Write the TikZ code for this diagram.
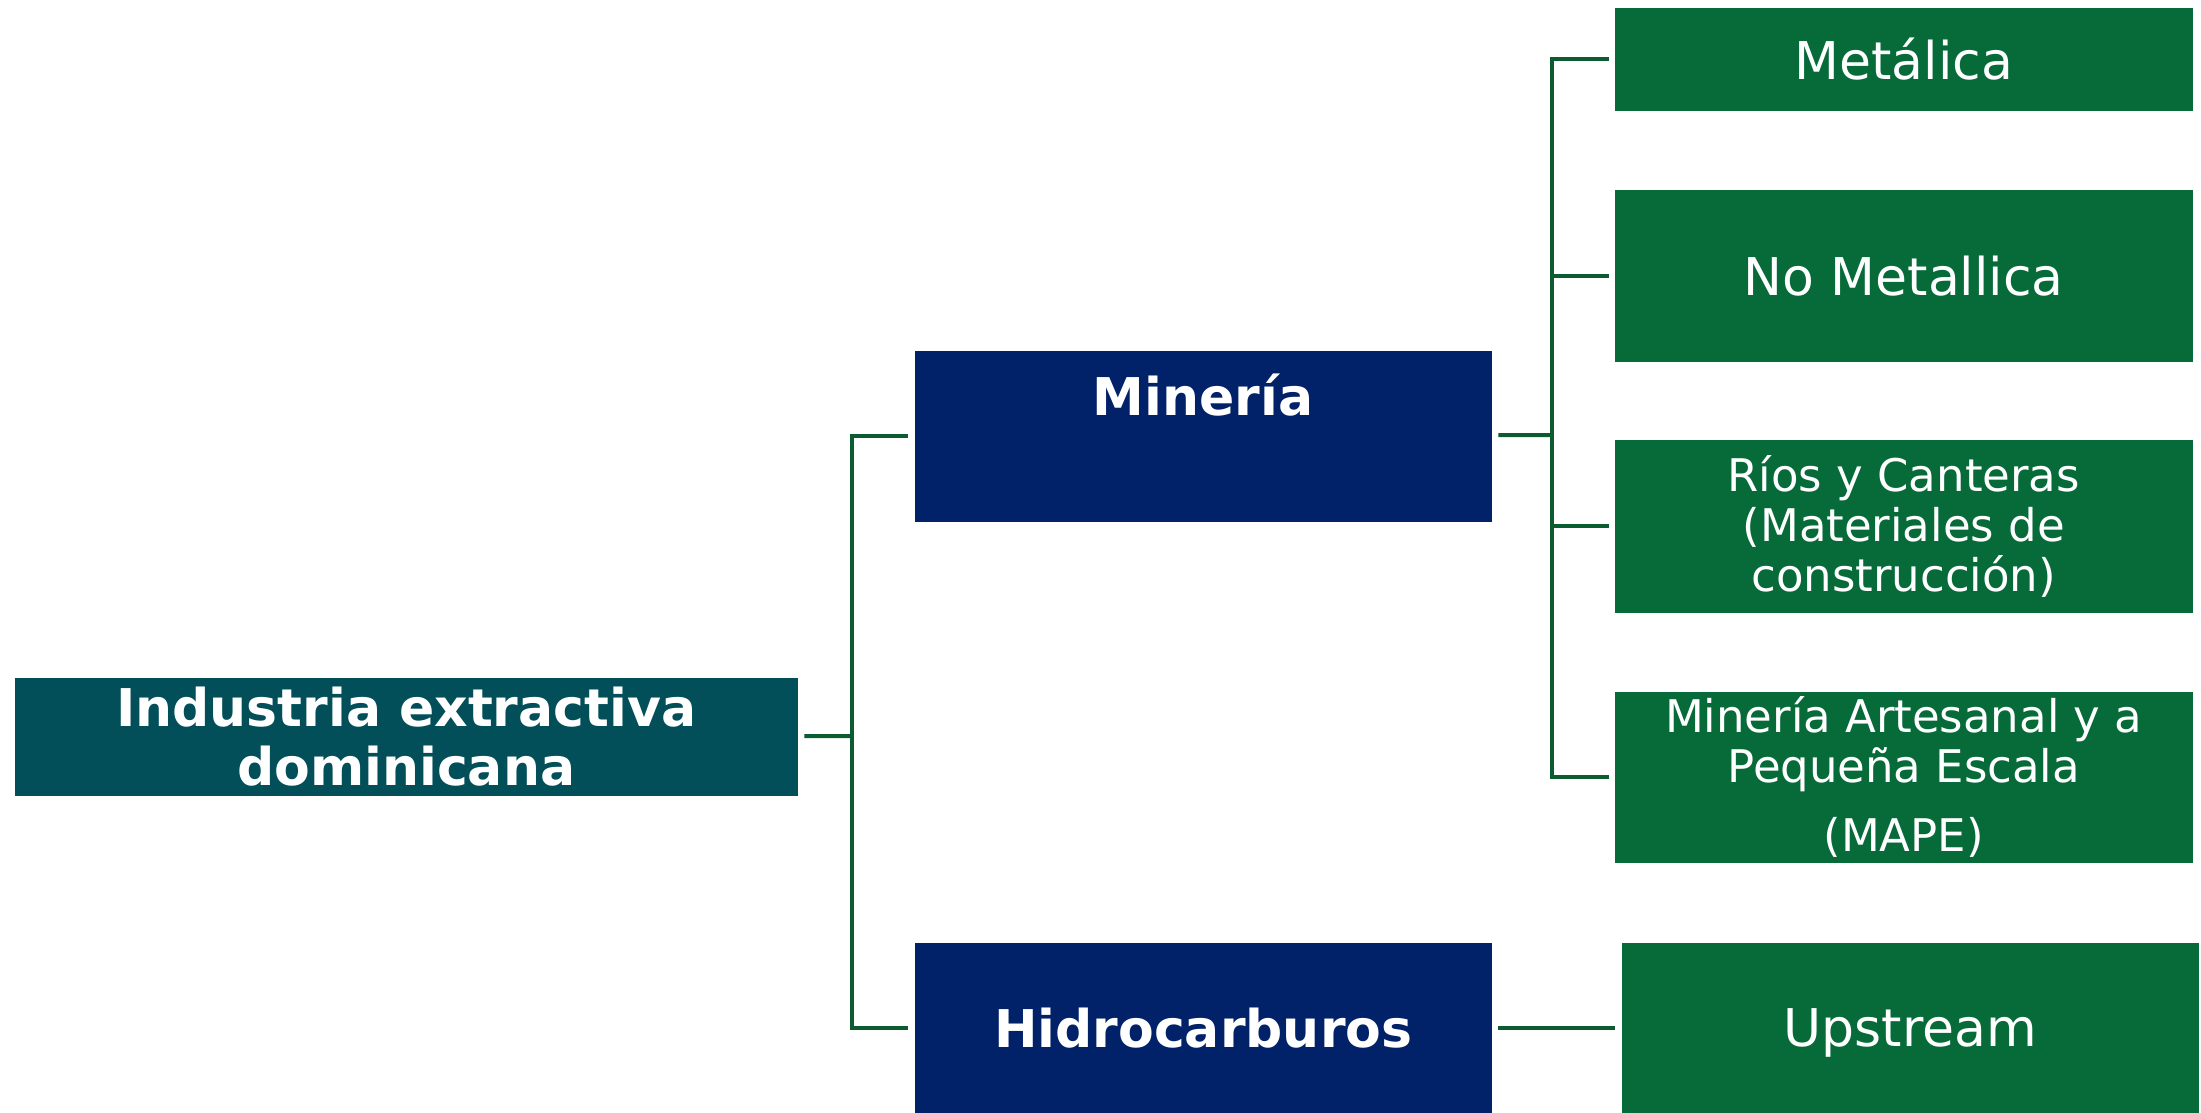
\documentclass[tikz,border=0pt]{standalone}
\usepackage{fontspec}
\setmainfont{DejaVu Sans}
\definecolor{rootcol}{HTML}{024F59}
\definecolor{minecol}{HTML}{012169}
\definecolor{subcol}{HTML}{066B39}
\definecolor{linecol}{HTML}{0B5C30}
\begin{document}
\begin{tikzpicture}[x=0.1mm,y=-0.1mm]

        \useasboundingbox (0,0) rectangle (2201,1112);

        \begin{scope}[every node/.style={rectangle, anchor=north west, inner sep=0pt, text=white, align=center, font=\fontsize{14.8}{16.8}\selectfont}]
          \node[fill=rootcol, minimum width=78.3mm, minimum height=11.8mm, font=\fontsize{14.8}{16.8}\selectfont\bfseries] (root) at (14,677) {Industria extractiva\\dominicana};
          \node[fill=minecol, minimum width=57.7mm, text height=6.5mm, text depth=10.6mm, text width=57.7mm, font=\fontsize{14.8}{16.8}\selectfont\bfseries] (min) at (914,350) {Minería};
          \node[fill=minecol, minimum width=57.7mm, minimum height=17mm, font=\fontsize{14.8}{16.8}\selectfont\bfseries] (hid) at (914,942) {Hidrocarburos};
          \node[fill=subcol, minimum width=57.8mm, minimum height=10.3mm] (met) at (1614,7) {Metálica};
          \node[fill=subcol, minimum width=57.8mm, minimum height=17.2mm] (nomet) at (1614,189) {No Metallica};
          \node[fill=subcol, minimum width=57.8mm, minimum height=17.3mm, font=\fontsize{12.8}{14.2}\selectfont] (rios) at (1614,439) {Ríos y Canteras\\(Materiales de\\construcción)};
          \node[fill=subcol, minimum width=57.8mm, minimum height=17.1mm, font=\fontsize{12.8}{14.2}\selectfont] (mape) at (1614,691) {Minería Artesanal y a\\Pequeña Escala\\[1.9mm](MAPE)};
          \node[fill=subcol, minimum width=57.7mm, minimum height=17mm, text depth=0pt] (up) at (1621,942) {Upstream};
        \end{scope}

        \coordinate (j1) at (852,736);
        \coordinate (j2) at (1552,435);

        \begin{scope}[every path/.style={draw=linecol, line width=0.4mm}, every edge/.style={draw=linecol, line width=0.4mm}]
          % level one
          \path (root) edge[shorten <=0.6mm] (j1);
          \draw[shorten <=0.6mm, shorten >=0.6mm] (min.west) -| (j1) |- (hid.west);
          % level two
          \path (min) edge[shorten <=0.6mm] (j2);
          \draw[shorten <=0.5mm, shorten >=0.5mm] (met.west) -| (j2) |- (mape.west);
          \path (j2 |- nomet.west) edge[shorten >=0.5mm] (nomet.west);
          \path (j2 |- rios.west) edge[shorten >=0.5mm] (rios.west);
          \path (hid) edge[shorten <=0.6mm, shorten >=0.6mm] (up);
        \end{scope}

      \end{tikzpicture}
\end{document}
